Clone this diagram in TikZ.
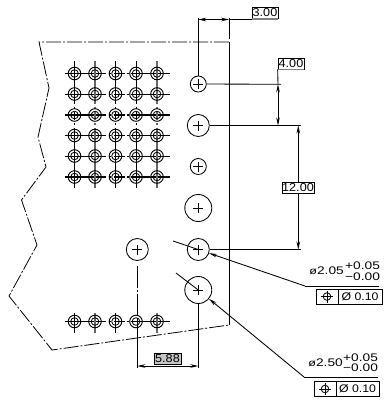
\documentclass[tikz,border=0pt]{standalone}
\usepackage{fontspec}
\setmainfont{Liberation Sans}
\newfontfamily\dimfont[FakeStretch=1.1]{Liberation Sans}
\newfontfamily\tolfont[FakeStretch=1.25]{Liberation Sans}
\newfontfamily\fcffont[FakeStretch=1.12]{Liberation Sans}
\usetikzlibrary{arrows.meta}
\tikzset{
  every picture/.style={x=1pt,y=-1pt},
  ln/.style={line width=0.85pt,black},
  hole/.style={circle,draw,line width=0.85pt,inner sep=0pt,fill=white},
  gridouter/.style={circle,draw,line width=0.9pt,inner sep=0pt,minimum size=12.6pt},
  gridinner/.style={circle,draw,line width=0.8pt,inner sep=0pt,minimum size=7.6pt},
  dimbox/.style={draw,line width=0.7pt,fill=white,inner sep=0pt,font=\fontsize{11.5}{12}\dimfont,anchor=center},
  tol/.style={inner sep=0pt,font=\fontsize{11}{11}\tolfont,anchor=base east},
  fcfcell/.style={draw,line width=0.85pt,inner sep=0pt,font=\fontsize{11}{12}\fcffont,anchor=center},
  dimarrow/.style={ln,{Stealth[length=8pt,width=3.6pt]}-{Stealth[length=8pt,width=3.6pt]}},
  leaderarrow/.style={ln,-{Stealth[length=8pt,width=3.6pt]}},
  outline/.style={line width=0.8pt,dash pattern=on 15pt off 2pt on 2pt off 2pt},
  rowline/.style={dash pattern=on 41pt off 3pt on 2pt off 3pt on 11pt off 2pt on 2pt off 2pt on 41pt},
  colline/.style={dash pattern=on 43pt off 3pt on 2pt off 3pt on 8pt off 3pt on 2pt off 3pt on 60pt},
}
\begin{document}
\begin{tikzpicture}
\useasboundingbox (0,0) rectangle (385,400);
\fill[white] (0,0) rectangle (385,400);
% part outline
\draw[outline,line join=round] (229,42) -- (39,42) -- (49,88) -- (38,137) -- (46,167) -- (21.5,200) -- (37,245) -- (9,296) -- (52,350) -- (229,325);
\draw[ln] (229,18) -- (229,38.5);
\draw[ln] (229,42) -- (229,325);
% pad grid: centre lines
\foreach \yy/\w in {73.5/1.6,94/1.0,115/1.3,135.5/1.6,156/1.0,177/1.6}
  \draw[rowline,line width=\w pt] (64.5,\yy) -- (170,\yy);
\foreach \xx/\w/\c in {74.5/0.85/black,95/1.3/black!60,115.5/0.85/black,136/0.85/black,157/1.3/black!60}
  \draw[colline,line width=\w pt,\c] (\xx,61) -- (\xx,188);
\draw[rowline,line width=1pt] (64.5,321.5) -- (170,321.5);
\foreach \xx/\w/\c in {74.5/0.85/black,95/1.3/black!60,115.5/0.85/black,157/1.3/black!60}
  \draw[line width=\w pt,\c] (\xx,312.5) -- (\xx,333);
% holes
\node[hole,minimum size=16pt] (h1) at (198.3,84) {};
\node[hole,minimum size=22pt] (h2) at (198.3,125.5) {};
\node[hole,minimum size=16pt] (h3) at (198.3,166.5) {};
\node[hole,minimum size=27pt] (h4) at (198.3,208) {};
\node[hole,minimum size=22pt] (h5) at (198.3,249.5) {};
\node[hole,minimum size=27pt] (h6) at (198.3,290) {};
\node[hole,minimum size=22pt] (h7) at (137.3,249.5) {};
\foreach \h in {h1,h2,h3,h4,h5,h6,h7}{
  \draw[ln] ([xshift=-5pt]\h.center) -- ([xshift=5pt]\h.center);
  \draw[ln] ([yshift=-5pt]\h.center) -- ([yshift=5pt]\h.center);
}
% centre line of the left hole
\coordinate (b1) at (137.3,368);
\draw[ln,dash pattern=on 22pt off 2pt on 2pt off 2pt] ([yshift=-5pt]h7.south) -- (137.3,320);
\draw[ln] (137.3,320) -- (b1);
% pad grid: circles
\foreach \xx in {74.5,95,115.5,136,157}{
  \foreach \yy in {73.5,94,115,135.5,156,177,321.5}{
    \node[gridouter] at (\xx,\yy) {};
    \node[gridinner] at (\xx,\yy) {};
  }
}
% dimension 3.00
\coordinate (t1) at (198.3,19.5);
\coordinate (t2) at (229,19.5);
\coordinate (t3) at (252,19.5);
\node[dimbox,minimum width=26pt,minimum height=11pt] (d300) at (265,13) {3.00};
\draw[ln] (t1) -- (h1.north);
\draw[ln] (198.3,18) -- (t1);
\draw[dimarrow] (t1) -- (t2);
\draw[line width=1.1pt] (t2) -- (t3);
\draw[line width=1.6pt,black!50] (d300.south west) -- (d300.south east);
% dimension 4.00
\node[dimbox,minimum width=26pt,minimum height=11pt] (d400) at (291,63.5) {4.00};
\coordinate (f1) at (278,84.3);
\coordinate (f2) at (278,125.5);
\draw[ln] (h1.east) -- (281,84.3);
\draw[line width=1pt] (h2.east) -- (301,125.5);
\draw[ln] (d400.south west) -- (f1);
\draw[dimarrow] (f1) -- (f2);
\draw[line width=1.4pt,black!50] (d400.south west) -- (d400.south east);
% dimension 12.00
\coordinate (w1) at (298.3,125.5);
\coordinate (w2) at (298.3,249.5);
\draw[line width=1pt] (h5.east) -- (301,249.5);
\draw[dimarrow] (w1) -- (w2);
\node[dimbox,minimum width=32pt,minimum height=11pt] (d1200) at (298,187.5) {12.00};
% dimension 5.88
\coordinate (v1) at (137.3,366);
\coordinate (v2) at (198.3,366);
\draw[ln] (h6.south) -- (198.3,368);
\draw[dimarrow] (v1) -- (v2);
\node[dimbox,fill=black!22,minimum width=27pt,minimum height=11pt] (d588) at (167.5,358.5) {5.88};
% callout 1
\coordinate (a0) at (173,241);
\coordinate (a1) at (305,286);
\coordinate (a2) at (379,286);
\draw[ln] (h5.center) -- (a0);
\draw[leaderarrow] (a1) -- (h5);
\draw[ln] (h5) -- (h5.center);
\draw[ln] (a1) -- (a2);
\node[tol] (t205) at (344,274) {{\fontsize{10}{10}\selectfont ø}2.05};
\node[tol,anchor=base west] (tp1) at (345,269) {+0.05};
\node[tol,anchor=base west] (tm1) at (345,280) {−0.00};
\node[fcfcell,minimum width=22pt,minimum height=15pt] (p1) at (327,296.5) {};
\node[fcfcell,minimum width=44pt,minimum height=15pt] (q1) at (360,296.5) {Ø 0.10};
\draw[line width=0.8pt] (p1.center) circle (3.8pt);
\draw[line width=0.8pt] ([xshift=-6pt]p1.center) -- ([xshift=6pt]p1.center);
\draw[line width=0.8pt] ([yshift=-6pt]p1.center) -- ([yshift=6pt]p1.center);
% callout 2
\coordinate (c0) at (176,273);
\coordinate (c1) at (304,377);
\coordinate (c2) at (378,377);
\draw[ln] (h6.center) -- (c0);
\draw[leaderarrow] (c1) -- (h6);
\draw[ln] (c1) -- (c2);
\node[tol] (t250) at (343,366) {{\fontsize{10}{10}\selectfont ø}2.50};
\node[tol,anchor=base west] (tp2) at (343,361) {+0.05};
\node[tol,anchor=base west] (tm2) at (343,371) {−0.00};
\node[fcfcell,minimum width=22pt,minimum height=14.5pt] (p2) at (325,389) {};
\node[fcfcell,minimum width=43pt,minimum height=14.5pt] (q2) at (357.5,389) {Ø 0.10};
\draw[line width=0.8pt] (p2.center) circle (3.8pt);
\draw[line width=0.8pt] ([xshift=-6pt]p2.center) -- ([xshift=6pt]p2.center);
\draw[line width=0.8pt] ([yshift=-6pt]p2.center) -- ([yshift=6pt]p2.center);
\end{tikzpicture}
\end{document}
